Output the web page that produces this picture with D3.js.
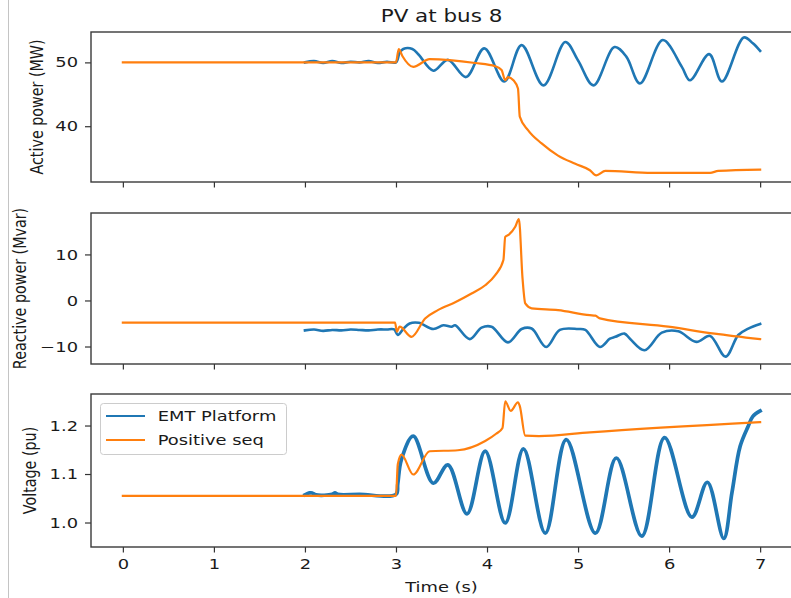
<!DOCTYPE html>
<html><head><meta charset="utf-8">
<script src="https://cdn.jsdelivr.net/npm/d3@7"></script>
<style>
body{margin:0;background:#fff}
svg{display:block}
text{font-family:"DejaVu Sans",sans-serif;fill:#1a1a1a}
</style>
</head><body><div id="chart"></div>
<script>
// ---------- data ----------
const chartTitle = "PV at bus 8";
const seriesNames = ["EMT Platform", "Positive seq"];
const xLabel = "Time (s)";
const xTicks = [0, 1, 2, 3, 4, 5, 6, 7];

// Active power (MW)
const P_emt_t = [2.0,2.1,2.2,2.3,2.4,2.5,2.6,2.7,2.8,2.9,3.0,3.04,3.08,3.18,3.25,3.41,3.57,3.77,3.97,4.19,4.38,4.62,4.86,5.0,5.17,5.40,5.53,5.68,5.93,6.14,6.23,6.44,6.58,6.82,6.92,7.0];
const P_emt_v = [50.0,50.2,49.9,50.2,49.9,50.1,50.0,50.2,49.9,50.1,50.0,51.5,52.1,52.1,51.2,48.7,50.4,47.7,52.2,47.0,52.7,46.4,53.2,50.3,46.4,52.4,50.9,46.7,53.5,49.3,47.2,51.3,47.0,53.9,53.0,51.8];
const P_pos_t = [0,3.0,3.03,3.07,3.19,3.37,3.87,4.09,4.16,4.20,4.23,4.29,4.34,4.36,4.45,4.60,4.78,4.97,5.13,5.20,5.30,5.81,6.45,6.54,7.0];
const P_pos_v = [50,50,52.1,51.0,49.3,50.5,49.9,49.4,48.8,47.2,47.7,47.2,45.9,41.5,39.4,37.3,35.4,34.1,33.1,32.3,33.0,32.7,32.7,33.0,33.2];

// Reactive power (Mvar)
const Q_emt_t = [2.0,2.1,2.2,2.3,2.4,2.5,2.6,2.7,2.8,2.9,2.98,3.02,3.08,3.15,3.25,3.41,3.52,3.61,3.65,3.81,3.94,4.05,4.23,4.38,4.49,4.65,4.80,5.0,5.08,5.24,5.35,5.41,5.51,5.57,5.73,5.92,6.10,6.30,6.45,6.62,6.76,6.87,7.0];
const Q_emt_v = [-6.5,-6.3,-6.6,-6.4,-6.5,-6.3,-6.4,-6.5,-6.3,-6.3,-6.3,-7.5,-6.2,-5.0,-4.85,-6.2,-5.4,-5.7,-5.4,-8.4,-5.9,-5.7,-9.1,-6.2,-6.1,-10.1,-6.4,-6.2,-6.4,-10.1,-8.3,-7.9,-7.2,-8.3,-10.8,-7.0,-6.7,-9.0,-7.7,-12.2,-7.5,-6.1,-5.1];
const Q_pos_t = [0,2.99,3.01,3.04,3.17,3.32,3.46,3.65,3.83,3.98,4.09,4.18,4.20,4.24,4.31,4.35,4.39,4.42,4.49,4.78,5.13,5.19,5.24,5.99,6.50,7.0];
const Q_pos_v = [-4.8,-4.8,-6.8,-5.7,-7.9,-3.9,-2.1,-0.4,1.5,3.3,5.5,8.8,13.8,14.3,16.0,17.7,4.8,-0.65,-1.7,-2.1,-3.2,-3.3,-3.9,-5.7,-7.2,-8.4];

// Voltage (pu)
const V_emt_t = [2.0,2.05,2.08,2.12,2.3,2.33,2.36,2.6,3.0,3.02,3.06,3.19,3.41,3.57,3.78,3.98,4.20,4.40,4.64,4.87,5.19,5.42,5.70,5.95,6.25,6.42,6.60,6.69,6.78,6.87,6.92,7.0];
const V_emt_v = [1.057,1.061,1.061,1.057,1.058,1.061,1.058,1.058,1.058,1.08,1.13,1.178,1.081,1.119,1.018,1.147,0.999,1.152,0.978,1.171,0.978,1.133,0.972,1.175,1.011,1.083,0.967,1.061,1.157,1.199,1.219,1.23];
const V_pos_t = [0,3.0,3.02,3.06,3.19,3.37,3.68,3.98,4.10,4.17,4.20,4.26,4.34,4.36,4.42,4.57,5.13,7.0];
const V_pos_v = [1.055,1.055,1.12,1.14,1.099,1.147,1.149,1.168,1.183,1.195,1.25,1.23,1.248,1.24,1.179,1.178,1.186,1.207];

const yLabels = ["Active power (MW)", "Reactive power (Mvar)", "Voltage (pu)"];
const yTicksP = [40, 50];
const yTicksQ = [-10, 0, 10];
const yTicksV = [1.0, 1.1, 1.2];

// ---------- layout ----------
const W = 791, H = 598;
const FS = 14.3, SX = 1.25;      // font size, horizontal text stretch
const colors = ["#1f77b4", "#ff7f0e"];
const axL = 91, axR = 792;

const panels = [
  {top: 32,  bottom: 182, domain: [31.26, 54.76], ticks: yTicksP, fmt: d3.format("d"),
   label: yLabels[0], labelX: 37,
   series: [[P_emt_t, P_emt_v], [P_pos_t, P_pos_v]], widths: [2.6, 2.2]},
  {top: 213, bottom: 364, domain: [-13.8, 19.0], ticks: yTicksQ, fmt: d => d3.format("d")(d).replace("-", "\u2212"),
   label: yLabels[1], labelX: 20,
   series: [[Q_emt_t, Q_emt_v], [Q_pos_t, Q_pos_v]], widths: [2.6, 2.2]},
  {top: 394, bottom: 547, domain: [0.9495, 1.265], ticks: yTicksV, fmt: d3.format(".1f"),
   label: yLabels[2], labelX: 30,
   series: [[V_emt_t, V_emt_v], [V_pos_t, V_pos_v]], widths: [3.7, 2.2]}
];

const svg = d3.select("#chart").append("svg").attr("width", W).attr("height", H);
svg.append("rect").attr("width", W).attr("height", H).attr("fill", "#fff");
svg.append("line").attr("x1", 8.5).attr("x2", 8.5).attr("y1", 0).attr("y2", H)
  .attr("stroke", "#c4c4c4").attr("stroke-width", 1);

const x = d3.scaleLinear().domain([-0.35, 7.35]).range([axL, axR]);
const curves = [d3.curveCatmullRom.alpha(0.5), d3.curveMonotoneX];

panels.forEach((p, i) => {
  const y = d3.scaleLinear().domain(p.domain).range([p.bottom, p.top]);
  const g = svg.append("g");

  // lines
  p.series.forEach((s, k) => {
    const line = d3.line().x(d => x(d[0])).y(d => y(d[1])).curve(curves[k]);
    g.append("path").datum(d3.zip(s[0], s[1]))
      .attr("d", line).attr("fill", "none")
      .attr("stroke", colors[k]).attr("stroke-width", p.widths[k])
      .attr("stroke-linejoin", "round").attr("stroke-linecap", "square");
  });

  // y axis
  const ya = g.append("g").attr("transform", `translate(${axL},0)`)
    .call(d3.axisLeft(y).tickValues(p.ticks).tickFormat(p.fmt).tickSize(6).tickPadding(7));
  ya.select(".domain").remove();
  ya.selectAll(".tick line").attr("stroke", "#333").attr("stroke-width", 1.2);
  ya.selectAll(".tick text").attr("font-size", FS).attr("font-family", "DejaVu Sans")
    .attr("fill", "#1a1a1a")
    .attr("x", -13 / SX).attr("transform", `scale(${SX},1)`);

  // x axis
  const xa = g.append("g").attr("transform", `translate(0,${p.bottom})`)
    .call(d3.axisBottom(x).tickValues(xTicks).tickFormat(i === 2 ? d3.format("d") : () => "").tickSize(5.5).tickPadding(6));
  xa.select(".domain").remove();
  xa.selectAll(".tick line").attr("stroke", "#333").attr("stroke-width", 1.2);
  xa.selectAll(".tick text").attr("font-size", FS).attr("font-family", "DejaVu Sans")
    .attr("fill", "#1a1a1a").attr("transform", `scale(${SX},1)`);

  // spines
  g.append("rect").attr("x", axL).attr("y", p.top)
    .attr("width", axR - axL).attr("height", p.bottom - p.top)
    .attr("fill", "none").attr("stroke", "#3a3a3a").attr("stroke-width", 1.4);

  // y label
  g.append("text")
    .attr("transform", `translate(${p.labelX},${(p.top + p.bottom) / 2}) scale(${SX},1) rotate(-90)`)
    .attr("text-anchor", "middle").attr("dy", "0.35em")
    .attr("font-size", FS).text(p.label);
});

// title
svg.append("text")
  .attr("transform", `translate(${(axL + axR) / 2},22) scale(${SX},1)`)
  .attr("text-anchor", "middle").attr("font-size", FS * 1.2).text(chartTitle);

// x label
svg.append("text")
  .attr("transform", `translate(${(axL + axR) / 2},592) scale(${SX},1)`)
  .attr("text-anchor", "middle").attr("font-size", FS).text(xLabel);

// legend
const lg = svg.append("g");
lg.append("rect").attr("x", 100.5).attr("y", 403.5).attr("width", 186).attr("height", 51)
  .attr("rx", 3).attr("fill", "#fff").attr("fill-opacity", 0.8)
  .attr("stroke", "#cccccc").attr("stroke-width", 1);
seriesNames.forEach((name, k) => {
  const yy = 416 + k * 24;
  lg.append("line").attr("x1", 106).attr("x2", 145).attr("y1", yy).attr("y2", yy)
    .attr("stroke", colors[k]).attr("stroke-width", 2.2);
  lg.append("text").attr("transform", `translate(157.7,${yy + 5}) scale(${SX},1)`)
    .attr("font-size", FS).text(name);
});
</script>
</body></html>
